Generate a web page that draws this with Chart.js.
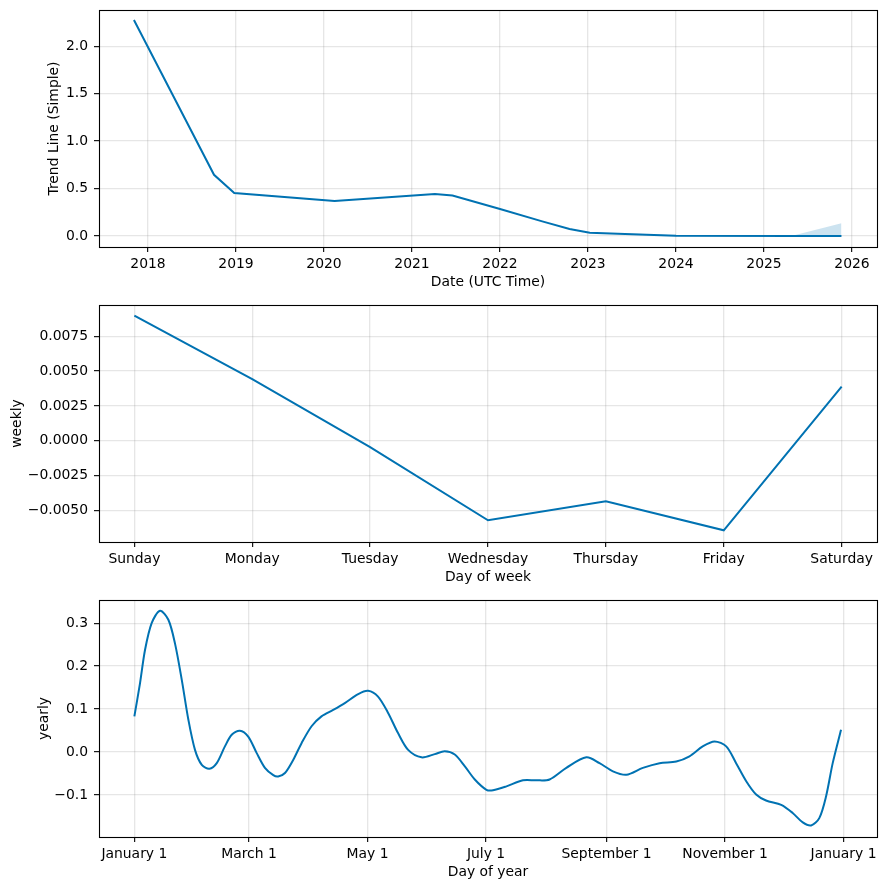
<!DOCTYPE html>
<html>
<head>
<meta charset="utf-8">
<script src="https://cdn.jsdelivr.net/npm/chart.js@4.4.1/dist/chart.umd.min.js"></script>
<style>
  html, body { margin: 0; padding: 0; background: #fff; }
  #fig { position: relative; width: 886px; height: 890px; background: #fff; }
  canvas { position: absolute; left: 0; }
</style>
</head>
<body>
<div id="fig">
  <canvas id="trendChart" width="886" height="295" style="top:0px"></canvas>
  <canvas id="weeklyChart" width="886" height="295" style="top:295px"></canvas>
  <canvas id="yearlyChart" width="886" height="295" style="top:590px"></canvas>
</div>
<script>
// trend (x = decimal year)
const trendYears  = [2017.84, 2018.75, 2018.98, 2020.12, 2021.26, 2021.46, 2022.0, 2022.48, 2022.79, 2023.02, 2023.5, 2024.0, 2025.31, 2025.88];
const trendValues = [2.277, 0.645, 0.453, 0.368, 0.442, 0.427, 0.284, 0.154, 0.074, 0.035, 0.018, 0.003, 0.0, 0.0];
const trendUpper  = [2.277, 0.645, 0.453, 0.368, 0.442, 0.427, 0.284, 0.154, 0.074, 0.037, 0.026, 0.008, 0.0, 0.135];

// weekly
const weekDays = ['Sunday', 'Monday', 'Tuesday', 'Wednesday', 'Thursday', 'Friday', 'Saturday'];
const weeklyValues = [0.00898, 0.00442, -0.00045, -0.00571, -0.00435, -0.00643, 0.00389];

// yearly (x = day of year)
const yearDays = [0, 2.9, 5.5, 8.9, 13.2, 17.5, 20.9, 24.4, 27.8, 31.2, 34.7, 38.6, 42.4, 46.6, 50.1, 54.3, 58.6, 62.9,
  67.2, 71.5, 74, 77.5, 81.8, 86.1, 91.2, 96.3, 102.3, 108.3, 115.2, 120.3, 125.4, 130.6, 135.7, 140.9, 147.8, 154.6,
  159.7, 164.9, 170, 175.2, 181.2, 184.6, 191.5, 200, 206.9, 213.7, 222.3, 232.6, 239.4, 246.3, 253.2, 261.7, 270.3,
  278.9, 285.7, 292.5, 298.6, 304.6, 309.7, 314.9, 320, 325.1, 332.9, 338.8, 344, 348.3, 352.5, 356, 359.4, 363.7];
const yearlyValues = [0.083, 0.160, 0.238, 0.300, 0.329, 0.308, 0.253, 0.168, 0.075, 0.005, -0.030, -0.039, -0.026, 0.013,
  0.040, 0.0495, 0.036, -0.002, -0.037, -0.054, -0.057, -0.049, -0.018, 0.021, 0.060, 0.083, 0.098, 0.114, 0.135, 0.1425,
  0.129, 0.091, 0.044, 0.005, -0.0125, -0.005, 0.0015, -0.006, -0.033, -0.064, -0.088, -0.089, -0.080, -0.066, -0.066,
  -0.064, -0.037, -0.0125, -0.026, -0.045, -0.053, -0.037, -0.026, -0.022, -0.010, 0.013, 0.0247, 0.013, -0.026, -0.068,
  -0.099, -0.113, -0.123, -0.142, -0.164, -0.171, -0.154, -0.103, -0.026, 0.052];
const monthTickDays = [0, 59, 120, 181, 243, 304, 365];
const monthTickLabels = ['January 1', 'March 1', 'May 1', 'July 1', 'September 1', 'November 1', 'January 1'];

const blue = '#0072B2';
const gridColor = 'rgba(128,128,128,0.2)';

Chart.defaults.font.family = 'DejaVu Sans';
Chart.defaults.font.size = 13.9;
Chart.defaults.color = '#000';

// black box around the plot area
const frame = {
  id: 'frame',
  afterDraw(chart) {
    const a = chart.chartArea;
    const ctx = chart.ctx;
    ctx.save();
    ctx.strokeStyle = '#000';
    ctx.lineWidth = 1.1;
    ctx.strokeRect(Math.round(a.left) + 0.5, Math.round(a.top) + 0.5,
      Math.round(a.right - a.left), Math.round(a.bottom - a.top));
    ctx.restore();
  }
};

function points(xs, ys) {
  return xs.map((x, i) => ({ x: x, y: ys[i] }));
}

function gridOpts() {
  return { color: gridColor, lineWidth: 1.3, tickColor: '#000', tickLength: 5, tickWidth: 1.1 };
}

function makeChart(id, datasets, x, y) {
  new Chart(document.getElementById(id), {
    type: 'line',
    data: { datasets: datasets },
    options: {
      responsive: false,
      animation: false,
      layout: { padding: { top: 10, right: 9, left: 0, bottom: 0 } },
      plugins: { legend: { display: false }, tooltip: { enabled: false } },
      elements: { point: { radius: 0 }, line: { tension: 0 } },
      scales: {
        x: Object.assign({
          type: 'linear',
          grid: gridOpts(),
          border: { display: false },
          afterFit: s => { s.height = 48; s.paddingLeft = 0; s.paddingRight = 0; }
        }, x),
        y: Object.assign({
          type: 'linear',
          grid: gridOpts(),
          border: { display: false },
          afterFit: s => { s.width = 99; s.paddingTop = 0; s.paddingBottom = 0; }
        }, y)
      }
    },
    plugins: [frame]
  });
}

const minus = s => s.replace('-', '\u2212');

makeChart('trendChart', [
  { data: points(trendYears, trendUpper), borderWidth: 0, backgroundColor: 'rgba(0,114,178,0.2)', fill: '+1' },
  { data: points(trendYears, trendValues), borderColor: blue, borderWidth: 2, fill: false }
], {
  min: 2017.443, max: 2026.284,
  ticks: { stepSize: 1, includeBounds: false, autoSkip: false, maxRotation: 0, padding: 4, callback: v => String(v) },
  title: { display: true, text: 'Date (UTC Time)', padding: { top: 0, bottom: 4.7 } }
}, {
  min: -0.116, max: 2.382,
  ticks: { stepSize: 0.5, includeBounds: false, autoSkip: false, padding: 6, callback: v => minus(v.toFixed(1)) },
  title: { display: true, text: 'Trend Line (Simple)', padding: { top: 45.7, bottom: 0 } }
});

makeChart('weeklyChart', [
  { data: points(weekDays.map((d, i) => i), weeklyValues), borderColor: blue, borderWidth: 2, fill: false }
], {
  min: -0.3, max: 6.3,
  ticks: { stepSize: 1, includeBounds: false, autoSkip: false, maxRotation: 0, padding: 4, callback: v => weekDays[v] || '' },
  title: { display: true, text: 'Day of week', padding: { top: 0, bottom: 4.7 } }
}, {
  min: -0.00727, max: 0.00975,
  ticks: { stepSize: 0.0025, includeBounds: false, autoSkip: false, padding: 6, callback: v => minus(v.toFixed(4)) },
  title: { display: true, text: 'weekly', padding: { top: 9.2, bottom: 0 } }
});

makeChart('yearlyChart', [
  { data: points(yearDays, yearlyValues), borderColor: blue, borderWidth: 2, fill: false, tension: 0.3 }
], {
  min: -18.2, max: 382.2,
  afterBuildTicks: s => { s.ticks = monthTickDays.map(v => ({ value: v })); },
  ticks: { autoSkip: false, maxRotation: 0, padding: 4, callback: (v, i) => monthTickLabels[i] },
  title: { display: true, text: 'Day of year', padding: { top: 0, bottom: 4.7 } }
}, {
  min: -0.198, max: 0.354,
  ticks: { stepSize: 0.1, includeBounds: false, autoSkip: false, padding: 6, callback: v => minus(v.toFixed(1)) },
  title: { display: true, text: 'yearly', padding: { top: 35.7, bottom: 0 } }
});
</script>
</body>
</html>
